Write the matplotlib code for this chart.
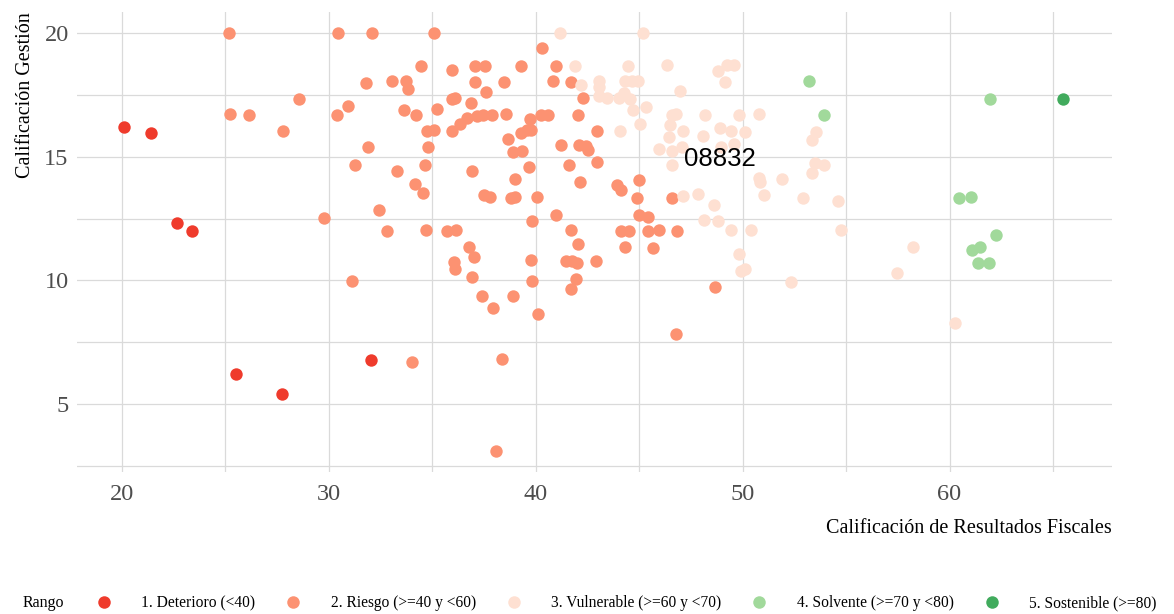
import matplotlib.pyplot as plt
from matplotlib.lines import Line2D

# Calificación de Resultados Fiscales (x) y Calificación Gestión (y), por rango
deterioro_x = [20.12, 21.44, 22.68, 23.42, 25.55, 27.74, 32.07]
deterioro_y = [16.22, 15.97, 12.33, 12.00, 6.22, 5.41, 6.77]

riesgo_x = [25.20, 25.24, 26.16, 27.79, 28.59, 30.44, 32.09, 31.81, 33.05, 30.39, 30.94, 31.92,
            31.30, 33.29, 32.44, 33.65, 29.77, 32.81, 31.12,
            35.08, 40.30, 34.47, 35.97, 37.06, 37.58, 39.28, 40.97, 33.74, 33.84, 37.06, 37.60,
            38.49, 40.84, 41.73, 42.31, 35.97, 36.10, 36.88, 34.21, 35.23, 36.35, 36.71, 37.19,
            37.48, 37.92, 38.58, 39.72, 40.27, 40.62, 42.04, 34.74, 35.11, 35.97, 39.28, 39.57,
            39.77, 38.66, 42.97, 34.79, 38.91, 39.36, 41.25, 42.12, 42.44, 42.54, 34.66, 36.95,
            39.70, 41.62, 42.97, 34.16, 34.58, 39.01, 42.15, 43.92, 44.12, 45.01, 37.51, 37.80,
            38.80, 39.01, 40.09, 44.92, 46.58,
            34.70, 35.72, 36.17, 36.80, 37.03, 36.05, 36.13, 36.93, 37.42, 38.90, 37.96, 39.85,
            40.97, 39.78, 39.83, 40.10, 41.70, 42.05, 41.46, 41.76, 42.02, 41.96, 41.70, 42.91,
            44.99, 45.45, 44.13, 44.53, 45.42, 45.95, 46.84, 44.31, 45.66, 48.67, 46.79, 34.03,
            38.37, 38.08]
riesgo_y = [20.00, 16.71, 16.67, 16.04, 17.33, 20.00, 20.00, 17.98, 18.05, 16.69, 17.06, 15.38,
            14.65, 14.41, 12.85, 16.89, 12.51, 12.00, 9.99,
            20.00, 19.38, 18.68, 18.50, 18.68, 18.68, 18.67, 18.68, 18.06, 17.74, 18.02, 17.63,
            18.03, 18.05, 18.02, 17.37, 17.35, 17.37, 17.16, 16.67, 16.93, 16.31, 16.56, 16.66,
            16.70, 16.70, 16.74, 16.52, 16.69, 16.70, 16.67, 16.04, 16.07, 16.04, 15.97, 16.08,
            16.08, 15.70, 16.04, 15.39, 15.20, 15.23, 15.49, 15.47, 15.45, 15.28, 14.65, 14.43,
            14.57, 14.68, 14.77, 13.90, 13.52, 14.11, 13.97, 13.84, 13.65, 14.05, 13.45, 13.38,
            13.34, 13.38, 13.36, 13.34, 13.34,
            12.02, 12.00, 12.03, 11.35, 10.95, 10.73, 10.46, 10.14, 9.36, 9.38, 8.87, 12.39,
            12.64, 10.82, 9.99, 8.65, 12.04, 11.45, 10.77, 10.77, 10.69, 10.06, 9.65, 10.78,
            12.66, 12.55, 12.00, 12.00, 12.01, 12.05, 11.98, 11.36, 11.32, 9.72, 7.81, 6.69,
            6.82, 3.08]

vulnerable_x = [41.18, 45.21, 41.92, 44.48, 46.34, 48.83, 49.23, 49.60, 49.17, 42.18, 43.05, 43.05,
                44.34, 44.68, 44.94, 46.97, 43.05, 43.45, 44.02, 44.29, 44.57, 44.73, 45.32, 45.05,
                44.08, 47.11, 47.86, 48.64, 51.05, 50.82, 50.85, 51.91, 45.97, 46.58, 46.43, 46.50,
                46.60, 46.79, 47.11, 47.06, 46.58, 48.21, 48.10, 48.91, 49.44, 50.12, 49.84, 50.82,
                48.95, 49.60, 53.55, 53.34, 53.50, 53.95, 53.34, 52.94, 54.60, 54.76, 58.22, 57.45,
                52.33, 60.27, 48.14, 48.82, 49.46, 50.43, 49.81, 49.91, 50.10]
vulnerable_y = [20.00, 20.00, 18.68, 18.68, 18.71, 18.46, 18.71, 18.71, 18.02, 17.89, 18.06, 17.80,
                18.05, 18.05, 18.05, 17.64, 17.45, 17.37, 17.37, 17.56, 17.33, 16.89, 17.00, 16.32,
                16.04, 13.41, 13.48, 13.05, 13.45, 14.13, 13.99, 14.11, 15.31, 15.24, 15.78, 16.29,
                16.69, 16.71, 16.04, 15.40, 14.66, 16.70, 15.85, 16.17, 16.04, 15.99, 16.70, 16.73,
                15.40, 15.51, 16.01, 15.69, 14.75, 14.66, 14.33, 13.33, 13.22, 12.04, 11.36, 10.30,
                9.92, 8.29, 12.44, 12.39, 12.04, 12.04, 11.07, 10.39, 10.45]

solvente_x = [53.21, 53.92, 61.96, 60.46, 61.05, 62.24, 61.10, 61.47, 61.39, 61.89]
solvente_y = [18.05, 16.67, 17.34, 13.33, 13.38, 11.82, 11.22, 11.36, 10.69, 10.69]

sostenible_x = [65.47]
sostenible_y = [17.34]

rangos = ["1. Deterioro (<40)", "2. Riesgo (>=40 y <60)", "3. Vulnerable (>=60 y <70)",
          "4. Solvente (>=70 y <80)", "5. Sostenible (>=80)"]
colores = ["#ef3b2c", "#fc9272", "#fee0d2", "#a1d99b", "#41ab5d"]

etiqueta = "08832"
etiqueta_x, etiqueta_y = 48.9, 14.9

plt.rcParams["font.family"] = ["Liberation Serif", "DejaVu Serif"]

fig = plt.figure(figsize=(11.74, 6.14), dpi=100)
ax = fig.add_axes([77 / 1174, 1 - 472 / 614, 1035 / 1174, 460 / 614])

series = [(riesgo_x, riesgo_y), (vulnerable_x, vulnerable_y), (deterioro_x, deterioro_y),
          (solvente_x, solvente_y), (sostenible_x, sostenible_y)]
orden = [1, 2, 0, 3, 4]
for (xs, ys), i in zip(series, orden):
    ax.scatter(xs, ys, s=80, color=colores[i], linewidths=0, zorder=3)

ax.text(etiqueta_x, etiqueta_y, etiqueta, family="Liberation Sans", fontsize=18.5,
        ha="center", va="center", color="black", zorder=4)

ax.set_xlim(17.85, 67.85)
ax.set_ylim(2.25, 20.85)
ax.set_xticks([20, 30, 40, 50, 60])
ax.set_yticks([5, 10, 15, 20])
ax.set_xticks([25, 35, 45, 55, 65], minor=True)
ax.set_yticks([2.5, 7.5, 12.5, 17.5], minor=True)
ax.grid(True, which="both", color="#dadada", linewidth=0.9)
ax.set_axisbelow(True)
for s in ax.spines.values():
    s.set_visible(False)
ax.tick_params(which="both", length=0)
ax.tick_params(axis="both", labelsize=17.5, labelcolor="#4d4d4d")
ax.tick_params(axis="y", pad=6)
ax.tick_params(axis="x", pad=9)

ax.set_xlabel("Calificación de Resultados Fiscales", loc="right", fontsize=14.5, labelpad=10)
ax.set_ylabel("Calificación Gestión", loc="top", fontsize=14.5, labelpad=7)

handles = [Line2D([], [], marker="o", linestyle="none", markersize=9, markeredgewidth=0,
                  color=c) for c in colores]
fig.text(23 / 1174, 1 - 603 / 614, "Rango", fontsize=11.5, va="center", ha="left")
fig.legend(handles, rangos, loc="center left", bbox_to_anchor=(96 / 1174, 1 - 603 / 614),
           ncol=5, frameon=False, fontsize=11.2, handlelength=1.0, handletextpad=1.9,
           columnspacing=1.95, borderaxespad=0, borderpad=0)

fig.savefig("out.png", dpi=100)
